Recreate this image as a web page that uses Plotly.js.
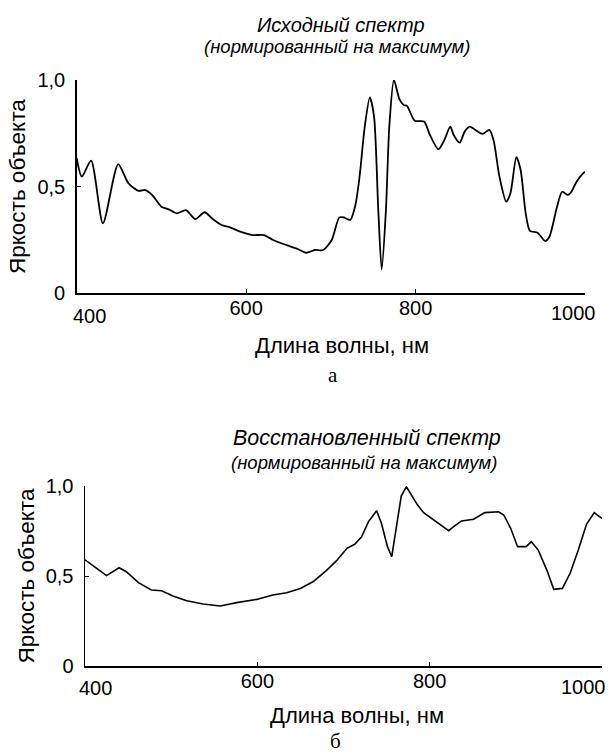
<!DOCTYPE html>
<html>
<head>
<meta charset="utf-8">
<script src="https://cdn.plot.ly/plotly-3.0.1.min.js"></script>
<style>html,body{margin:0;padding:0;background:#fff;}#chart{width:610px;height:754px;}</style>
</head>
<body>
<div id="chart"></div>
<script>
// Исходный спектр (верхний график)
const topWavelength = [400,406,417,431,449,461,473,481,489,500,508,518,529,540,551,561,571,581,593,608,621,632,644,660,671,681,691,701,710,715,723,729,734,740,746,751,756,760,765,769,774.5,781,786,790,799,810,817,827,834,841,845,852,858,864,872,879,887,892,899,907,912,919,924,930,935,944,953,958,967,973,980,984,990,998,1000];
const topBrightness = [0.633,0.547,0.622,0.328,0.606,0.516,0.48,0.484,0.461,0.406,0.395,0.375,0.39,0.348,0.38,0.347,0.32,0.309,0.289,0.273,0.273,0.25,0.231,0.209,0.19,0.203,0.203,0.25,0.356,0.356,0.344,0.414,0.55,0.781,0.919,0.828,0.39,0.112,0.39,0.781,1.0,0.909,0.883,0.878,0.809,0.805,0.742,0.675,0.719,0.781,0.742,0.706,0.758,0.781,0.762,0.747,0.766,0.719,0.547,0.43,0.469,0.638,0.578,0.375,0.293,0.284,0.245,0.265,0.406,0.476,0.461,0.476,0.523,0.563,0.57];

// Восстановленный спектр (нижний график)
const botWavelength = [400,425,439.5,448,462,477,489,502,518,537,557,576,599,618,634,650,665,680,692,704,713,721,729,738.5,744,751,756,762,767,773,779,786,793,802,812,822,829,837,851,864,880,886,894,902,912,918,926,936,944,954,963,972.5,982,991,997,1000];
const botBrightness = [0.59,0.502,0.546,0.524,0.463,0.422,0.418,0.389,0.363,0.344,0.333,0.352,0.37,0.394,0.407,0.431,0.469,0.53,0.585,0.654,0.676,0.718,0.802,0.863,0.793,0.663,0.607,0.793,0.944,0.996,0.95,0.894,0.852,0.82,0.789,0.752,0.778,0.806,0.815,0.852,0.857,0.839,0.765,0.663,0.663,0.691,0.644,0.533,0.426,0.431,0.515,0.644,0.787,0.852,0.83,0.82];

const xTickVals = [400,600,800,1000];
const xTickText = ['','600','800',''];
const yTickVals = [0,0.5,1];
const yTickText = ['0','0,5','1,0'];

const titleTop1 = 'Исходный спектр';
const titleTop2 = '(нормированный на максимум)';
const titleBot1 = 'Восстановленный спектр';
const titleBot2 = '(нормированный на максимум)';
const xTitle = 'Длина волны, нм';
const yTitle = 'Яркость объекта';

const W = 610, H = 754;
const FONT = 'Liberation Sans, Arial, sans-serif';

const traces = [
  {x: topWavelength, y: topBrightness, xaxis:'x', yaxis:'y', type:'scatter', mode:'lines',
   line:{color:'#000', width:1.8, shape:'spline', smoothing:0.7}, cliponaxis:false, hoverinfo:'skip'},
  {x: botWavelength, y: botBrightness, xaxis:'x2', yaxis:'y2', type:'scatter', mode:'lines',
   line:{color:'#000', width:1.6}, cliponaxis:false, hoverinfo:'skip'}
];

function xAxis(domain, anchor) {
  return {
    domain: domain, anchor: anchor, range:[400,1000], showgrid:false, zeroline:false,
    showline:true, linecolor:'#000', linewidth:1.5, mirror:false,
    ticks:'inside', ticklen:4, tickwidth:1, tickcolor:'#000',
    tickmode:'array', tickvals:xTickVals, ticktext:xTickText,
    tickfont:{family:FONT, size:20, color:'#000'}, ticklabelstandoff:-4,
    fixedrange:true
  };
}
function yAxis(domain, anchor) {
  return {
    domain: domain, anchor: anchor, range:[0,1], showgrid:false, zeroline:false,
    showline:true, linecolor:'#000', linewidth:1.5, mirror:false,
    ticks:'inside', ticklen:4, tickwidth:1, tickcolor:'#000',
    tickmode:'array', tickvals:yTickVals, ticktext:yTickText,
    tickfont:{family:FONT, size:20, color:'#000'}, ticklabelstandoff:6,
    title:{text:yTitle, font:{family:FONT, size:22.5, color:'#000'}, standoff:5},
    fixedrange:true
  };
}

function txt(xref, yref, x, y, text, font, opts) {
  return Object.assign({xref:xref, yref:yref, x:x, y:y, text:text, showarrow:false,
    xanchor:'center', yanchor:'middle', font:font}, opts || {});
}
const tickFont = {family:FONT, size:20, color:'#000'};
const axFont = {family:FONT, size:22, color:'#000'};
const serif = {family:'Liberation Serif, Times New Roman, serif', size:21, color:'#000'};

const layout = {
  width: W, height: H, margin:{l:0,r:0,t:0,b:0},
  paper_bgcolor:'#fff', plot_bgcolor:'rgba(0,0,0,0)', showlegend:false,
  font:{family:FONT, color:'#000'},
  xaxis: xAxis([76.7/W, 585/W], 'y'),
  yaxis: yAxis([1-293.3/H, 1-80/H], 'x'),
  xaxis2: xAxis([85/W, 602/W], 'y2'),
  yaxis2: yAxis([1-666/H, 1-486/H], 'x2'),
  annotations: [
    txt('paper','paper', 341/W, 1-25/H, '<i>'+titleTop1+'</i>', {family:FONT, size:20, color:'#000'}),
    txt('paper','paper', 337/W, 1-47/H, '<i>'+titleTop2+'</i>', {family:FONT, size:18.5, color:'#000'}),
    txt('paper','paper', 367/W, 1-438/H, '<i>'+titleBot1+'</i>', {family:FONT, size:21.5, color:'#000'}),
    txt('paper','paper', 364/W, 1-462/H, '<i>'+titleBot2+'</i>', {family:FONT, size:18.5, color:'#000'}),
    txt('x','y', 400, 0, '400', tickFont, {xshift:13, yshift:-23}),
    txt('x','y', 1000, 0, '1000', tickFont, {xshift:-12, yshift:-20}),
    txt('x2','y2', 400, 0, '400', tickFont, {xshift:11, yshift:-22}),
    txt('x2','y2', 1000, 0, '1000', tickFont, {xshift:-19, yshift:-21}),
    txt('paper','paper', 342/W, 1-345/H, xTitle, axFont),
    txt('paper','paper', 357/W, 1-715/H, xTitle, axFont),
    txt('paper','paper', 333/W, 1-375/H, 'а', serif),
    txt('paper','paper', 335/W, 1-741/H, 'б', serif)
  ]
};

Plotly.newPlot('chart', traces, layout, {displayModeBar:false, staticPlot:true});
</script>
</body>
</html>
